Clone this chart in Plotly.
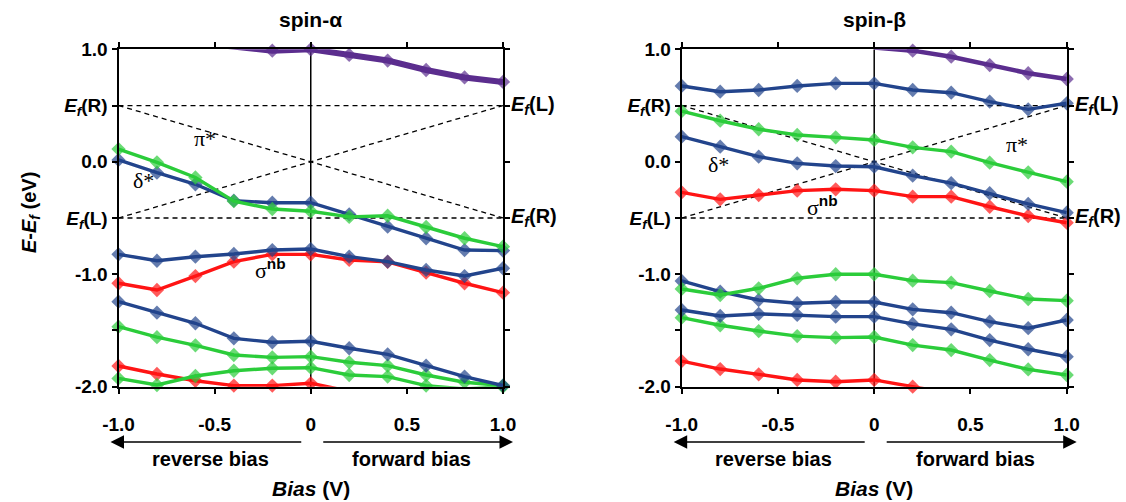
import plotly.graph_objects as go

BIAS = [-1.0, -0.8, -0.6, -0.4, -0.2, 0.0, 0.2, 0.4, 0.6, 0.8, 1.0]

# ---- spin-alpha ----
A_PURPLE = [None, None, 1.06, 1.02, 0.988, 1.0, 0.95, 0.90, 0.816, 0.75, 0.71]
A_GREEN_PI = [0.113, -0.005, -0.14, -0.35, -0.42, -0.44, -0.49, -0.48, -0.58, -0.68, -0.755]
A_BLUE_DELTA = [0.016, -0.097, -0.20, -0.346, -0.364, -0.364, -0.467, -0.577, -0.68, -0.785, -0.79]
A_BLUE_2 = [-0.823, -0.88, -0.844, -0.82, -0.785, -0.776, -0.844, -0.888, -0.962, -1.016, -0.947]
A_RED_SIGMA = [-1.08, -1.14, -1.016, -0.888, -0.823, -0.823, -0.873, -0.89, -0.986, -1.08, -1.164]
A_BLUE_3 = [-1.244, -1.342, -1.436, -1.57, -1.605, -1.596, -1.658, -1.712, -1.813, -1.91, -1.99]
A_GREEN_2 = [-1.466, -1.56, -1.632, -1.718, -1.739, -1.733, -1.783, -1.813, -1.896, -1.96, -1.99]
A_GREEN_3 = [-1.926, -1.985, -1.905, -1.858, -1.836, -1.831, -1.896, -1.91, -1.99, -2.02, -2.0]
A_RED_2 = [-1.816, -1.887, -1.947, -1.99, -1.99, -1.97, -2.04, None, None, None, None]

# ---- spin-beta ----
B_PURPLE = [None, None, None, None, None, 1.015, 0.988, 0.934, 0.86, 0.787, 0.736]
B_BLUE_1 = [0.674, 0.623, 0.638, 0.674, 0.697, 0.697, 0.638, 0.614, 0.534, 0.466, 0.52]
B_GREEN_PI = [0.45, 0.365, 0.289, 0.238, 0.217, 0.194, 0.128, 0.09, -0.008, -0.094, -0.177]
B_BLUE_DELTA = [0.223, 0.134, 0.045, -0.014, -0.038, -0.044, -0.124, -0.19, -0.28, -0.375, -0.453]
B_RED_SIGMA = [-0.272, -0.334, -0.296, -0.257, -0.245, -0.257, -0.31, -0.31, -0.40, -0.482, -0.542]
B_GREEN_2 = [-1.131, -1.185, -1.125, -1.036, -1.0, -1.0, -1.057, -1.075, -1.149, -1.22, -1.235]
B_BLUE_2 = [-1.06, -1.155, -1.229, -1.258, -1.247, -1.247, -1.312, -1.342, -1.422, -1.48, -1.407]
B_BLUE_3 = [-1.318, -1.371, -1.353, -1.362, -1.377, -1.377, -1.442, -1.49, -1.585, -1.667, -1.733]
B_GREEN_3 = [-1.386, -1.454, -1.505, -1.55, -1.564, -1.558, -1.63, -1.674, -1.763, -1.846, -1.896]
B_RED_2 = [-1.772, -1.843, -1.89, -1.94, -1.956, -1.94, -2.0, -2.06, None, None, None]

Y_TICKS = [1.0, 0.5, 0.0, -0.5, -1.0, -1.5, -2.0]
EF = "<i>E</i><sub><i>f</i></sub>"
Y_TICKTEXT = ["1.0", EF + "(R)", "0.0", EF + "(L)", "-1.0", "", "-2.0"]
X_TICKS = [-1.0, -0.5, 0.0, 0.5, 1.0]
X_TICKTEXT = ["-1.0", "-0.5", "0", "0.5", "1.0"]

PURPLE = "#5b2d8e"
BLUE = "#22448c"
GREEN = "#2bcc3a"
RED = "#ff1414"
FONT = "Liberation Sans"

fig = go.Figure()


def add_series(y, color, xa, ya, width=3.4):
    sizes = [0 if (v is None or v > 1.005 or v < -2.015) else 11 for v in y]
    fig.add_trace(go.Scatter(
        x=BIAS, y=y, mode="lines+markers", xaxis=xa, yaxis=ya,
        line=dict(color=color, width=width),
        marker=dict(symbol="diamond", size=sizes, color=color, line=dict(width=0)),
        cliponaxis=False, showlegend=False, hoverinfo="skip"))


for ys, c in [(A_RED_2, RED), (A_GREEN_3, GREEN), (A_GREEN_2, GREEN), (A_BLUE_3, BLUE),
              (A_RED_SIGMA, RED), (A_BLUE_2, BLUE), (A_BLUE_DELTA, BLUE), (A_GREEN_PI, GREEN)]:
    add_series(ys, c, "x", "y")
add_series(A_PURPLE, PURPLE, "x", "y", width=6)

for ys, c in [(B_RED_2, RED), (B_GREEN_3, GREEN), (B_BLUE_3, BLUE), (B_BLUE_2, BLUE),
              (B_GREEN_2, GREEN), (B_RED_SIGMA, RED), (B_BLUE_DELTA, BLUE), (B_GREEN_PI, GREEN),
              (B_BLUE_1, BLUE)]:
    add_series(ys, c, "x2", "y2")
add_series(B_PURPLE, PURPLE, "x2", "y2", width=4.5)

W, H = 1126, 502
top_px, bot_px = 49.3, 386.7
ydom = [1 - bot_px / H, 1 - top_px / H]
xdom1 = [118.5 / W, 503 / W]
xdom2 = [681.7 / W, 1066.7 / W]

axis_common = dict(showline=True, linecolor="black", linewidth=2, mirror="ticks",
                   ticks="outside", ticklen=5, tickwidth=1.5, tickcolor="black",
                   showgrid=False, zeroline=False, automargin=False,
                   tickfont=dict(family=FONT, size=19, color="black", weight="bold"))

fig.update_layout(
    width=W, height=H, margin=dict(l=0, r=0, t=0, b=0, autoexpand=False),
    paper_bgcolor="white", plot_bgcolor="white",
    xaxis=dict(domain=xdom1, anchor="y", range=[-1, 1], tickvals=X_TICKS, ticktext=X_TICKTEXT,
               ticklabelstandoff=14, **axis_common),
    yaxis=dict(domain=ydom, anchor="x", range=[-2, 1], tickvals=Y_TICKS, ticktext=Y_TICKTEXT,
               **axis_common),
    xaxis2=dict(domain=xdom2, anchor="y2", range=[-1, 1], tickvals=X_TICKS, ticktext=X_TICKTEXT,
                ticklabelstandoff=14, **axis_common),
    yaxis2=dict(domain=ydom, anchor="x2", range=[-2, 1], tickvals=Y_TICKS, ticktext=Y_TICKTEXT,
                **axis_common),
)

shapes = []
for xr, yr in [("x", "y"), ("x2", "y2")]:
    dash = dict(color="black", width=1.3, dash="5px,4px")
    shapes += [
        dict(type="line", xref=xr, yref=yr, x0=-1, x1=1, y0=0.5, y1=0.5, line=dash, layer="below"),
        dict(type="line", xref=xr, yref=yr, x0=-1, x1=1, y0=-0.5, y1=-0.5, line=dash, layer="below"),
        dict(type="line", xref=xr, yref=yr, x0=-1, x1=1, y0=0.5, y1=-0.5, line=dash, layer="below"),
        dict(type="line", xref=xr, yref=yr, x0=-1, x1=1, y0=-0.5, y1=0.5, line=dash, layer="below"),
        dict(type="line", xref=xr, yref=yr, x0=0, x1=0, y0=-2, y1=1,
             line=dict(color="black", width=1.5), layer="below"),
    ]
fig.update_layout(shapes=shapes)

ann = []
lab = dict(family=FONT, size=20, color="black")
big = dict(family=FONT, size=21, color="black")
greek = dict(family="Liberation Serif", size=22, color="black")
for i, (xr, yr, dom, title) in enumerate([("x", "y", xdom1, "spin-α"), ("x2", "y2", xdom2, "spin-β")]):
    cx = (dom[0] + dom[1]) / 2
    ann.append(dict(xref="paper", yref="paper", x=cx, y=1 - 20 / H, text="<b>" + title + "</b>",
                    showarrow=False, font=big, xanchor="center", yanchor="middle"))
    # right-side Ef labels
    ann.append(dict(xref="paper", yref=yr, x=dom[1] + 6 / W, y=0.5, text="<b>" + EF + "(L)</b>",
                    showarrow=False, font=lab, xanchor="left", yanchor="middle"))
    ann.append(dict(xref="paper", yref=yr, x=dom[1] + 6 / W, y=-0.5, text="<b>" + EF + "(R)</b>",
                    showarrow=False, font=lab, xanchor="left", yanchor="middle"))
    # arrows
    left_px = dom[0] * W - 8
    right_px = dom[1] * W + 10
    mid_px = (dom[0] + dom[1]) / 2 * W
    ann.append(dict(xref="paper", yref="paper", x=left_px / W, y=1 - 442 / H, ax=(mid_px - 8) - left_px,
                    ay=0, axref="pixel", ayref="pixel", text="", showarrow=True, arrowhead=2,
                    arrowsize=1.8, arrowwidth=1.5, arrowcolor="black", standoff=0, startstandoff=0))
    ann.append(dict(xref="paper", yref="paper", x=right_px / W, y=1 - 442 / H, ax=(mid_px + 11) - right_px,
                    ay=0, axref="pixel", ayref="pixel", text="", showarrow=True, arrowhead=2,
                    arrowsize=1.8, arrowwidth=1.5, arrowcolor="black", standoff=0, startstandoff=0))
    ann.append(dict(xref="paper", yref="paper", x=(left_px + mid_px) / 2 / W, y=1 - 459 / H,
                    text="<b>reverse bias</b>", showarrow=False, font=lab, xanchor="center", yanchor="middle"))
    ann.append(dict(xref="paper", yref="paper", x=(right_px + mid_px) / 2 / W, y=1 - 459 / H,
                    text="<b>forward bias</b>", showarrow=False, font=lab, xanchor="center", yanchor="middle"))
    ann.append(dict(xref="paper", yref="paper", x=cx, y=1 - 488 / H,
                    text="<b><i>Bias</i> (V)</b>", showarrow=False, font=big, xanchor="center", yanchor="middle"))

SIG = "σ<sup><span style='font-family:Liberation Sans'><b>nb</b></span></sup>"
ann += [
    dict(xref="x", yref="y", x=-0.55, y=0.21, text="π*", showarrow=False, font=greek),
    dict(xref="x", yref="y", x=-0.87, y=-0.17, text="δ*", showarrow=False, font=greek),
    dict(xref="x", yref="y", x=-0.21, y=-0.95, text=SIG, showarrow=False, font=greek),
    dict(xref="x2", yref="y2", x=-0.81, y=-0.02, text="δ*", showarrow=False, font=greek),
    dict(xref="x2", yref="y2", x=0.74, y=0.15, text="π*", showarrow=False, font=greek),
    dict(xref="x2", yref="y2", x=-0.27, y=-0.39, text=SIG, showarrow=False, font=greek),
    dict(xref="paper", yref="paper", x=30 / W, y=1 - 212 / H, textangle=-90,
         text="<b><i>E</i>-" + EF + " (eV)</b>", showarrow=False, font=lab,
         xanchor="center", yanchor="middle"),
]
fig.update_layout(annotations=ann)

fig.write_html("out.html")
